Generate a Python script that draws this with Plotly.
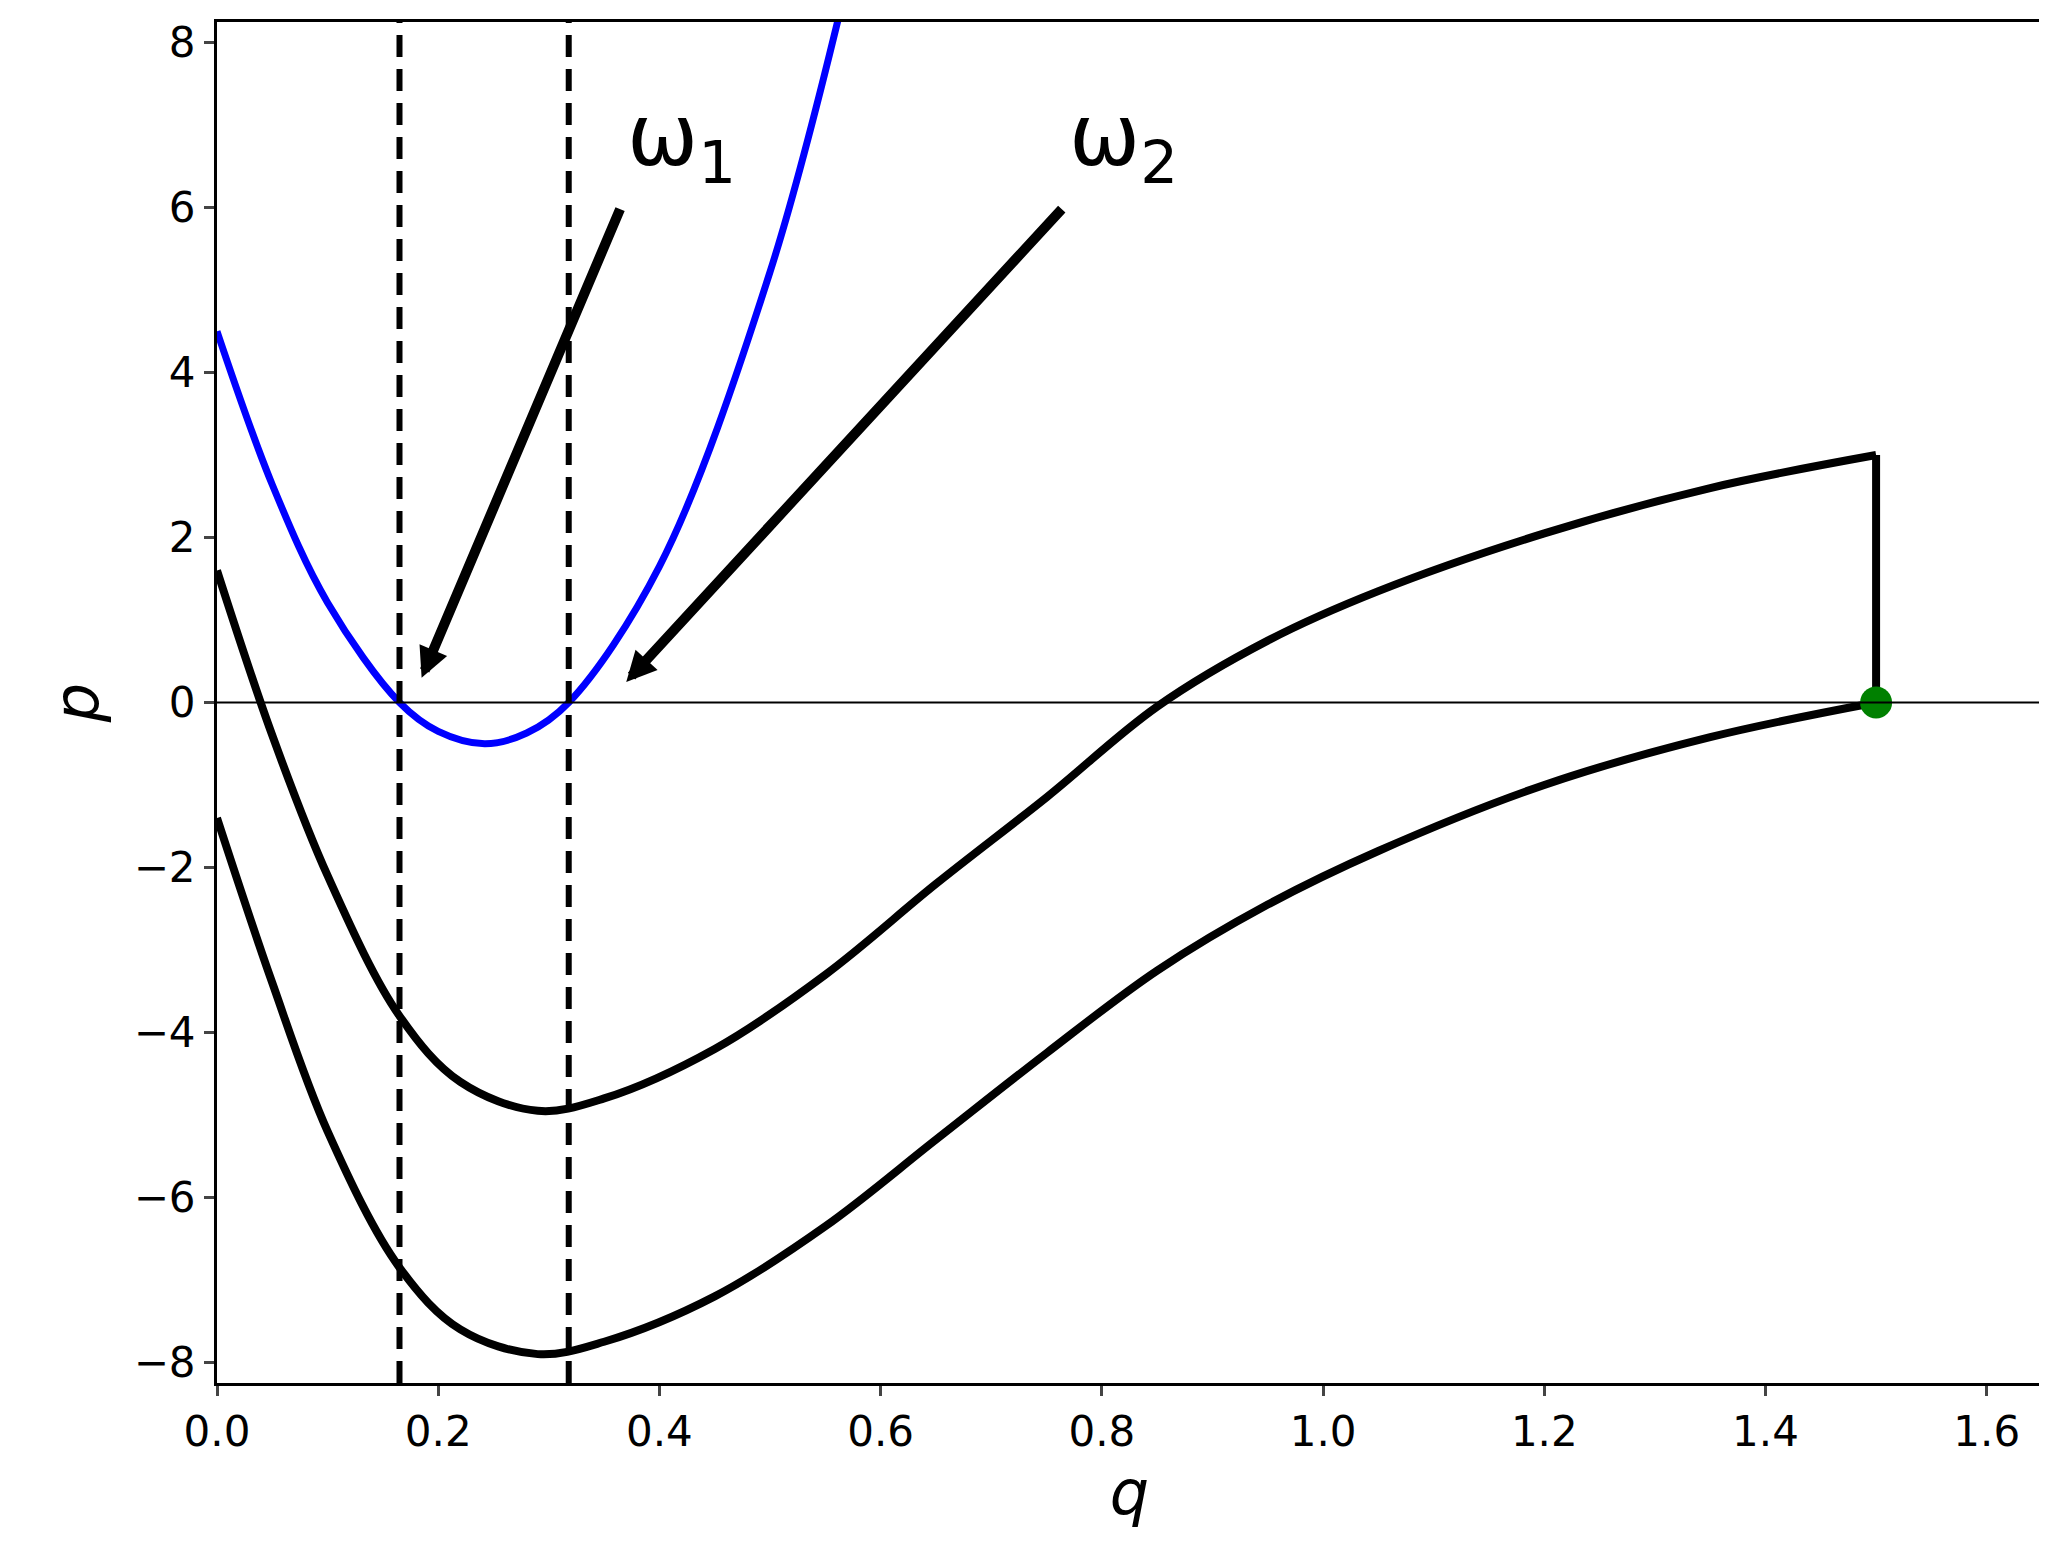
import plotly.graph_objects as go

# curva azul (parábola)
q_azul = [0.0, 0.05, 0.1, 0.165, 0.2, 0.242, 0.28, 0.318, 0.4, 0.5, 0.57]
p_azul = [4.5, 2.64, 1.21, 0.0, -0.35, -0.5, -0.37, 0.0, 1.65, 5.22, 8.75]

# curva preta de cima
q_cima = [0.0, 0.05, 0.1, 0.165, 0.22, 0.29, 0.35, 0.45, 0.55, 0.65, 0.75, 0.85, 0.95, 1.05, 1.2, 1.35, 1.5]
p_cima = [1.6, -0.4, -2.1, -3.8, -4.6, -4.95, -4.8, -4.2, -3.3, -2.2, -1.15, -0.05, 0.75, 1.35, 2.05, 2.6, 3.0]

# curva preta de baixo
q_baixo = [0.0, 0.05, 0.1, 0.165, 0.22, 0.29, 0.35, 0.45, 0.55, 0.65, 0.75, 0.85, 0.95, 1.05, 1.2, 1.35, 1.5]
p_baixo = [-1.4, -3.4, -5.2, -6.85, -7.6, -7.9, -7.75, -7.2, -6.35, -5.3, -4.25, -3.25, -2.45, -1.8, -1.0, -0.42, 0.0]

omega = [0.165, 0.318]
ponto = (1.5, 0.0)

fig = go.Figure()
fig.add_trace(go.Scatter(x=q_azul, y=p_azul, mode='lines', line=dict(color='blue', width=7, shape='spline')))
fig.add_trace(go.Scatter(x=q_cima, y=p_cima, mode='lines', line=dict(color='black', width=8, shape='spline', smoothing=1.0)))
fig.add_trace(go.Scatter(x=q_baixo, y=p_baixo, mode='lines', line=dict(color='black', width=8, shape='spline', smoothing=1.0)))
fig.add_trace(go.Scatter(x=[1.5, 1.5], y=[p_cima[-1], p_baixo[-1]], mode='lines', line=dict(color='black', width=8)))
fig.add_trace(go.Scatter(x=[ponto[0]], y=[ponto[1]], mode='markers', marker=dict(color='green', size=32)))

fig.add_hline(y=0, line=dict(color='black', width=2))
for w in omega:
    fig.add_vline(x=w, line=dict(color='black', width=6, dash='22px,12px'))

# setas
for (x0, y0, x1, y1) in [(0.365, 6.0, 0.185, 0.3), (0.765, 6.0, 0.37, 0.25)]:
    fig.add_annotation(x=x1, y=y1, ax=x0, ay=y0, xref='x', yref='y', axref='x', ayref='y',
                       showarrow=True, arrowhead=2, arrowsize=0.6, arrowwidth=10, arrowcolor='black', text='')

fig.add_annotation(x=0.42, y=6.8, text='ω<sub>1</sub>', showarrow=False, font=dict(size=85, color='black'))
fig.add_annotation(x=0.82, y=6.8, text='ω<sub>2</sub>', showarrow=False, font=dict(size=85, color='black'))

eixo = dict(showgrid=False, zeroline=False, ticks='outside', ticklen=10, tickwidth=2.5,
            showline=True, linecolor='black', linewidth=3, mirror=True,
            tickfont=dict(size=42, color='black'))
fig.update_layout(
    width=2047, height=1560, plot_bgcolor='white', paper_bgcolor='white',
    showlegend=False, font_family='DejaVu Sans',
    margin=dict(l=209, r=10, t=13, b=185),
    xaxis=dict(eixo, range=[0, 1.65], dtick=0.2, tickformat='.1f',
               title=dict(text='<i>q</i>', font=dict(size=62, color='black'), standoff=12)),
    yaxis=dict(eixo, range=[-8.25, 8.25], tickvals=[-8, -6, -4, -2, 0, 2, 4, 6, 8],
               ticktext=['−8', '−6', '−4', '−2', '0', '2', '4', '6', '8'],
               title=dict(text='<i>p</i>', font=dict(size=62, color='black'), standoff=15)),
)
fig.write_html('out.html')
